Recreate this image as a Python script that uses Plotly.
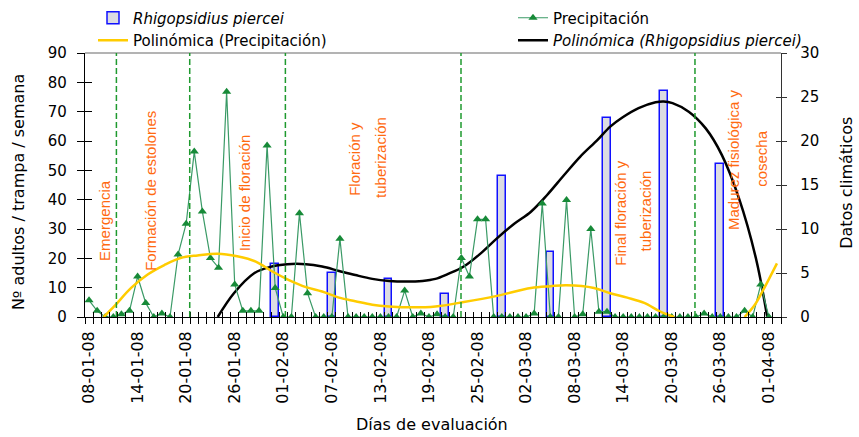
import plotly.graph_objects as go
import pandas as pd

# ---------------- data ----------------
BASE = pd.Timestamp("2008-01-08")
dates = pd.date_range("2008-01-08", "2008-04-01", freq="D")

# daily precipitation (mm, right axis)
precip_mm = [1.9, 0.7, 0, 0, 0.3, 0.7, 4.6, 1.6, 0, 0.4,
             0, 7.1, 10.6, 18.8, 12.0, 6.7, 5.6, 25.6, 3.7, 0.7,
             0.7, 0.7, 19.5, 3.3, 0, 0, 11.8, 2.7, 0, 0,
             0, 8.9, 0, 0, 0, 0, 0, 0, 0, 3.0,
             0, 0.4, 0, 0.3, 0, 0, 6.7, 4.6, 11.1, 11.1,
             0, 0, 0, 0, 0, 0.4, 12.9, 0, 0, 13.3,
             0, 0.3, 10.0, 0.6, 0.6, 0, 0, 0, 0, 0,
             0, 0, 0, 0, 0, 0, 0.4, 0, 0, 0,
             0, 0.7, 0, 3.7, 0]

# weekly captures of Rhigopsidius piercei (left axis)
bar_dates = ["2008-01-31", "2008-02-07", "2008-02-14", "2008-02-21", "2008-02-28",
             "2008-03-05", "2008-03-12", "2008-03-19", "2008-03-26"]
bar_counts = [18, 15, 13, 8, 48, 22, 68, 77, 52]

# polynomial trend of precipitation (days after 08-01-08, mm)
prec_trend_days = [1.8, 3.1, 5.2, 7.2, 9.3, 11.3, 13.4, 15.9, 18.3, 20.6, 22.6, 24.7,
                   26.8, 28.8, 30.9, 32.9, 35.0, 37.1, 40.0, 42.8, 46.3, 50.4, 54.6,
                   57.0, 59.0, 62.4, 64.4, 66.5, 68.6, 70.6, 72.3, 76.0, 81.0, 82.2, 83.2, 85.0]
prec_trend_vals = [0, 1.2, 3.3, 4.8, 5.9, 6.7, 7.0, 7.2, 6.9, 6.3, 5.2, 4.2,
                   3.4, 2.9, 2.2, 1.8, 1.4, 1.2, 1.1, 1.2, 1.7, 2.4, 3.3,
                   3.5, 3.6, 3.3, 2.7, 2.2, 1.6, 0.6, 0, None, 0, 1.3, 2.9, 6.1]

# polynomial trend of Rhigopsidius piercei (days after 08-01-08, adults)
rp_trend_days = [15.9, 17.9, 20.4, 22.4, 24.5, 26.8, 28.8, 30.9, 32.9, 35.0, 37.1, 39.1,
                 41.2, 42.8, 44.3, 46.3, 48.4, 50.4, 52.5, 54.6, 56.6, 58.7, 60.7, 62.8,
                 64.4, 65.9, 67.9, 70.0, 71.0, 72.1, 74.1, 76.2, 78.2, 80.3, 82.4, 83.8]
rp_trend_vals = [0, 8.1, 14.9, 17.1, 18.0, 18.0, 17.2, 15.7, 14.3, 13.0, 12.3, 12.1,
                 12.3, 13.0, 14.6, 17.2, 21.7, 26.8, 31.7, 35.9, 41.6, 48.4, 54.7, 60.3,
                 64.9, 68.0, 71.2, 73.2, 73.5, 72.9, 70.0, 64.3, 55.2, 40.5, 20.0, 0]

tick_dates = ["2008-01-08", "2008-01-14", "2008-01-20", "2008-01-26", "2008-02-01",
              "2008-02-07", "2008-02-13", "2008-02-19", "2008-02-25", "2008-03-02",
              "2008-03-08", "2008-03-14", "2008-03-20", "2008-03-26", "2008-04-01"]
tick_text = ["08-01-08", "14-01-08", "20-01-08", "26-01-08", "01-02-08", "07-02-08",
             "13-02-08", "19-02-08", "25-02-08", "02-03-08", "08-03-08", "14-03-08",
             "20-03-08", "26-03-08", "01-04-08"]

# crop-stage boundaries (days after 08-01-08)
stage_line_days = [3.38, 12.44, 24.26, 45.96, 74.87]

# --------------- helpers ---------------
def day_to_date(d):
    return BASE + pd.to_timedelta(d, unit="D")

prec_trend_x = [day_to_date(d) for d in prec_trend_days]
rp_trend_x = [day_to_date(d) for d in rp_trend_days]

DAY_MS = 86400000
X_RANGE = ["2008-01-07 12:00", "2008-04-02 12:00"]
FONT = "DejaVu Sans"
ORANGE = "#ff6a10"

fig = go.Figure()

fig.add_trace(go.Bar(
    x=bar_dates, y=bar_counts, name="<i>Rhigopsidius piercei</i>",
    marker=dict(color="#dcdce2", line=dict(color="#1010ff", width=1.5)),
    width=0.95 * DAY_MS, yaxis="y", legend="legend"))

fig.add_trace(go.Scatter(
    x=dates, y=precip_mm, name="Precipitación", mode="lines+markers",
    line=dict(color="#3a9a66", width=1.2),
    marker=dict(symbol="triangle-up", size=8, color="#178a38"),
    yaxis="y2", legend="legend2"))

fig.add_trace(go.Scatter(
    x=prec_trend_x, y=prec_trend_vals, name="Polinómica (Precipitación)", mode="lines",
    line=dict(color="#ffcc00", width=2.5, shape="spline"), yaxis="y2", legend="legend"))

fig.add_trace(go.Scatter(
    x=rp_trend_x, y=rp_trend_vals, name="<i>Polinómica (Rhigopsidius piercei)</i>",
    mode="lines", line=dict(color="black", width=2.5, shape="spline"),
    yaxis="y", legend="legend2"))

# invisible helper traces so the tick-overlay axes are created
for xa, ya in [("x2", "y"), ("x3", "y"), ("x", "y3"), ("x", "y4")]:
    fig.add_trace(go.Scatter(x=[X_RANGE[0]], y=[None], xaxis=xa, yaxis=ya,
                             mode="lines", showlegend=False, hoverinfo="skip"))

shapes = [dict(type="line", xref="paper", yref="paper", x0=0, x1=1, y0=1, y1=1,
               line=dict(color="#9a9a9a", width=1.5))]
for d in stage_line_days:
    dd = day_to_date(d)
    shapes.append(dict(type="line", xref="x", yref="paper", x0=dd, x1=dd, y0=0, y1=1,
                       line=dict(color="#1f9a2f", width=1.5, dash="6px,3px")))

annotations = []
stage_labels = [("Emergencia", 1.82, 0.367),
                ("Formación de estolones", 7.5, 0.477),
                ("Inicio de floración", 19.2, 0.47),
                ("Floración y", 32.7, 0.598),
                ("tuberización", 36.0, 0.604),
                ("Final floración y", 65.7, 0.394),
                ("tuberización", 68.8, 0.403),
                ("Madurez fisiológica y", 79.7, 0.595),
                ("cosecha", 83.0, 0.602)]
for txt, d, yp in stage_labels:
    annotations.append(dict(text=txt, x=day_to_date(d), y=yp, xref="x", yref="paper",
                            textangle=-90, showarrow=False, xanchor="center", yanchor="middle",
                            font=dict(family="Liberation Sans", size=15, color=ORANGE)))

annotations += [
    dict(text="Nº adultos / trampa / semana", x=-0.0963, y=0.473, xref="paper", yref="paper",
         xanchor="center", yanchor="middle",
         textangle=-90, showarrow=False, font=dict(family=FONT, size=16, color="black")),
    dict(text="Datos climáticos", x=1.0948, y=0.508, xref="paper", yref="paper",
         xanchor="center", yanchor="middle",
         textangle=-90, showarrow=False, font=dict(family=FONT, size=16, color="black")),
    dict(text="Días de evaluación", x=0.4986, y=-0.409, xref="paper", yref="paper",
         xanchor="center", yanchor="middle",
         showarrow=False, font=dict(family=FONT, size=16, color="black")),
]

fig.update_layout(
    width=859, height=437,
    margin=dict(l=85, r=78, t=53, b=120, autoexpand=False),
    plot_bgcolor="white", paper_bgcolor="white",
    font=dict(family=FONT, size=15, color="black"),
    bargap=0,
    xaxis=dict(type="date", range=X_RANGE, tickmode="linear", tick0="2008-01-07 12:00",
               dtick=DAY_MS, ticks="outside", ticklen=6, tickwidth=1, tickcolor="black",
               showticklabels=False, showline=True, linecolor="black", linewidth=1.3,
               showgrid=False, zeroline=False, anchor="y"),
    xaxis2=dict(type="date", range=X_RANGE, overlaying="x", anchor="y", side="bottom",
                tickmode="array", tickvals=tick_dates, ticktext=tick_text, ticks="",
                tickangle=-90, tickfont=dict(family=FONT, size=16, color="black"),
                ticklabelstandoff=10, showline=False, showgrid=False, zeroline=False),
    xaxis3=dict(type="date", range=X_RANGE, overlaying="x", anchor="y", side="bottom",
                tickmode="linear", tick0="2008-01-07 12:00", dtick=DAY_MS, ticks="inside",
                ticklen=5, tickwidth=1, tickcolor="black", showticklabels=False,
                showline=False, showgrid=False, zeroline=False),
    yaxis=dict(range=[0, 90], tickmode="linear", tick0=0, dtick=10, ticks="outside",
               ticklen=7, tickwidth=1.3, tickcolor="black", showline=True, linecolor="black",
               linewidth=1.3, showgrid=False, zeroline=False, anchor="x",
               tickfont=dict(family=FONT, size=15, color="black"), ticklabelstandoff=7),
    yaxis3=dict(range=[0, 90], tickmode="linear", tick0=0, dtick=10, ticks="inside",
                ticklen=7, tickwidth=1.3, tickcolor="black", showticklabels=False,
                showline=False, showgrid=False, zeroline=False, overlaying="y", side="left",
                anchor="x"),
    yaxis2=dict(range=[0, 30], tickmode="linear", tick0=0, dtick=5, ticks="outside",
                ticklen=5, tickwidth=1.3, tickcolor="#333333", showline=True,
                linecolor="#333333", linewidth=1.3, showgrid=False, zeroline=False,
                overlaying="y", side="right", anchor="x",
                tickfont=dict(family=FONT, size=15, color="black"), ticklabelstandoff=10),
    yaxis4=dict(range=[0, 30], tickmode="linear", tick0=0, dtick=5, ticks="inside",
                ticklen=5, tickwidth=1.3, tickcolor="#333333", showticklabels=False,
                showline=False, showgrid=False, zeroline=False, overlaying="y", side="right",
                anchor="x"),
    legend=dict(x=(93 - 85) / 696, y=1.195, xanchor="left", yanchor="top",
                orientation="v", bgcolor="rgba(0,0,0,0)",
                font=dict(family=FONT, size=15, color="black")),
    legend2=dict(x=(513 - 85) / 696, y=1.195, xanchor="left", yanchor="top",
                 orientation="v", bgcolor="rgba(0,0,0,0)",
                 font=dict(family=FONT, size=15, color="black")),
    shapes=shapes,
    annotations=annotations,
)

fig.write_html("out.html")
